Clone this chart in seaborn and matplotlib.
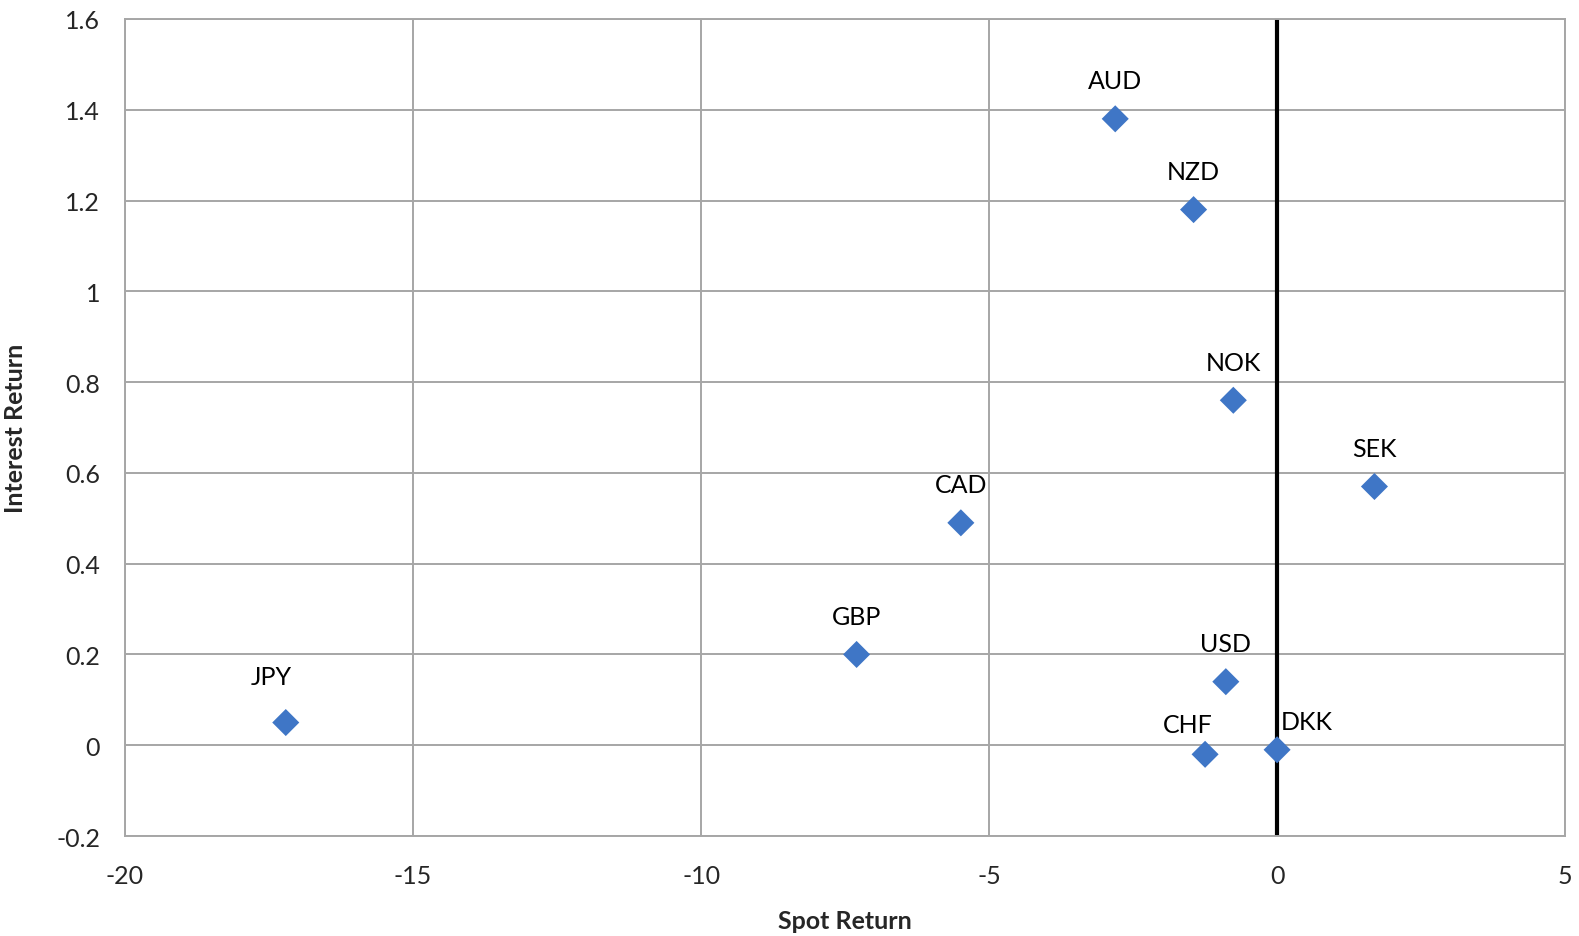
import numpy as np
import pandas as pd
import matplotlib
matplotlib.use("Agg")
import matplotlib.pyplot as plt
import seaborn as sns

# currency returns
currencies = ['AUD', 'NZD', 'NOK', 'SEK', 'CAD', 'GBP', 'JPY', 'USD', 'CHF', 'DKK']
spot_return = [-2.81, -1.45, -0.76, 1.69, -5.49, -7.30, -17.21, -0.89, -1.25, 0.0]
interest_return = [1.38, 1.18, 0.76, 0.57, 0.49, 0.20, 0.05, 0.14, -0.02, -0.01]

df = pd.DataFrame({'currency': currencies, 'spot': spot_return, 'interest': interest_return})

sns.set_style("white")
plt.rcParams['font.family'] = ['Lato', 'DejaVu Sans']

fig = plt.figure(figsize=(15.79, 9.37), dpi=100)
ax = fig.add_axes([0.0792, 0.1067, 0.912, 0.872])

ax.grid(True, color='#a6a6a6', linewidth=1.4)
ax.set_axisbelow(True)
ax.axvline(0, color='black', linewidth=3, zorder=2)

sns.scatterplot(data=df, x='spot', y='interest', marker='D', s=190,
                color='#3f76c6', edgecolor='none', ax=ax, zorder=3)

# label offsets in pixels (default is straight above the point)
offsets = {'JPY': (-14, 46), 'CHF': (-17, 30), 'DKK': (30, 28)}
for _, row in df.iterrows():
    dx, dy = offsets.get(row.currency, (0, 38))
    ax.annotate(row.currency, (row.spot, row.interest),
                xytext=(dx * 0.72, dy * 0.72), textcoords='offset points',
                ha='center', va='center', fontsize=18, color='black')

ax.set_xlim(-20, 5)
ax.set_ylim(-0.2, 1.6)
ax.set_xticks(np.arange(-20, 6, 5))
ax.set_yticks(np.arange(-0.2, 1.61, 0.2))
ax.set_xticklabels(['-20', '-15', '-10', '-5', '0', '5'])
ax.set_yticklabels(['-0.2', '0', '0.2', '0.4', '0.6', '0.8', '1', '1.2', '1.4', '1.6'])
ax.tick_params(axis='both', labelsize=18, length=0)
ax.tick_params(axis='x', pad=20)
ax.tick_params(axis='y', pad=18)

for sp in ax.spines.values():
    sp.set_color('#a6a6a6')
    sp.set_linewidth(1.4)

ax.set_xlabel('Spot Return', fontsize=18, fontweight='bold')
ax.set_ylabel('Interest Return', fontsize=18, fontweight='bold')
ax.xaxis.set_label_coords(0.5, -0.089)
ax.yaxis.set_label_coords(-0.068, 0.5)

fig.savefig('out.png', dpi=100)
